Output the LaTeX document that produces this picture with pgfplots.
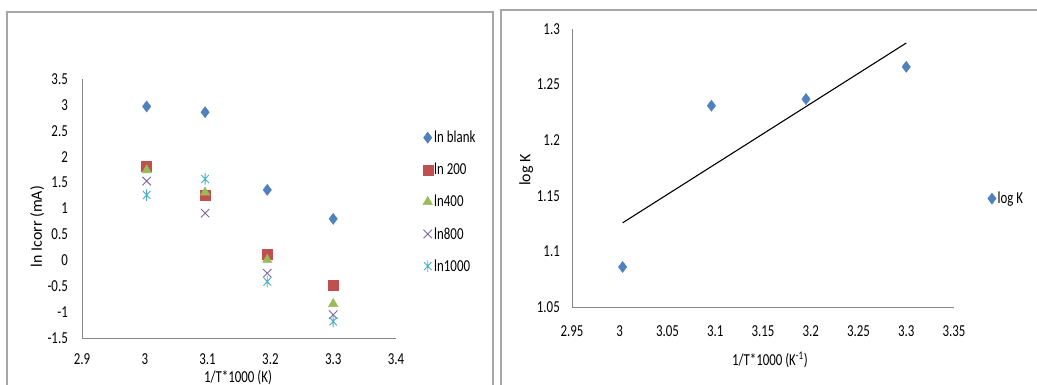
\documentclass[border=0pt]{standalone}
\usepackage{pgfplots}
\pgfplotsset{compat=1.18}
\usepackage{fontspec}
\setmainfont{Carlito}[FakeStretch=0.77]
\newfontfamily\rotfont{Carlito}
\definecolor{cblue}{HTML}{4F81BD}
\definecolor{cred}{HTML}{C0504D}
\definecolor{cgreen}{HTML}{9BBB59}
\definecolor{cpurple}{HTML}{8064A2}
\definecolor{ccyan}{HTML}{4BACC6}
\definecolor{axgray}{HTML}{868686}
\definecolor{framegray}{HTML}{A6A6A6}
\pgfdeclareplotmark{xstar}{%
  \pgfpathmoveto{\pgfqpoint{-.75\pgfplotmarksize}{-.8\pgfplotmarksize}}%
  \pgfpathlineto{\pgfqpoint{.75\pgfplotmarksize}{.8\pgfplotmarksize}}%
  \pgfpathmoveto{\pgfqpoint{-.75\pgfplotmarksize}{.8\pgfplotmarksize}}%
  \pgfpathlineto{\pgfqpoint{.75\pgfplotmarksize}{-.8\pgfplotmarksize}}%
  \pgfpathmoveto{\pgfqpoint{0pt}{-1.15\pgfplotmarksize}}%
  \pgfpathlineto{\pgfqpoint{0pt}{1.15\pgfplotmarksize}}%
  \pgfusepathqstroke}
\newcommand{\tfont}{\fontsize{16.8}{19}\selectfont}
\pgfplotsset{
  excel/.style={
    scale only axis, axis lines=left,
    axis line style={-, draw=axgray, line width=0.9bp},
    major tick length=0pt,
    tick label style={font=\tfont, inner sep=0pt},
    /pgf/number format/assume math mode=true,
    label style={font=\tfont},
    clip=false,
    legend cell align=left,
    legend image code/.code={\draw[mark repeat=2,mark phase=2] plot coordinates {(0cm,0cm) (0.12cm,0cm) (0.24cm,0cm)};},
  },
}
\begin{document}
\begin{tikzpicture}
\useasboundingbox (0bp,0bp) rectangle (1037bp,-385bp);
\clip (0bp,0bp) rectangle (1037bp,-385bp);
\draw[framegray, line width=1.2bp] (7bp,-12bp) rectangle (493bp,-420bp);
\draw[framegray, line width=1.2bp] (501bp,-10bp) rectangle (1060bp,-420bp);

\begin{axis}[excel,
  at={(82bp,-338bp)}, anchor=south west,
  width=314bp, height=259bp,
  xmin=2.9, xmax=3.4, ymin=-1.5, ymax=3.5,
  xtick={2.9,3,3.1,3.2,3.3,3.4},
  ytick={-1.5,-1,-0.5,0,0.5,1,1.5,2,2.5,3,3.5},
  xticklabel style={anchor=north, yshift=-15bp},
  yticklabel style={anchor=east, xshift=-14bp},
  xlabel={1/T*1000 (K)},
  xlabel style={at={(axis description cs:0.497,-0.153)}, anchor=center},
  ylabel={\rotfont\fontsize{16}{19}\selectfont ln Icorr (mA)},
  ylabel style={at={(axis description cs:-0.143,0.43)}, anchor=center},
  legend style={at={(axis description cs:1.075,0.815)}, anchor=north west,
    draw=none, fill=none, font=\tfont, row sep=15bp,
    nodes={inner xsep=1.5bp}},
]
\addplot[only marks, mark=diamond*, mark size=5.6bp, cblue, mark options={fill=cblue, draw=cblue}]
  coordinates {(3.003,2.97) (3.096,2.86) (3.195,1.36) (3.300,0.80)};
\addlegendentry{ln blank}
\addplot[only marks, mark=square*, mark size=5bp, cred, mark options={fill=cred, draw=cred}]
  coordinates {(3.003,1.81) (3.096,1.26) (3.195,0.11) (3.300,-0.48)};
\addlegendentry{ln 200}
\addplot[only marks, mark=triangle*, mark size=5.5bp, cgreen, mark options={fill=cgreen, draw=cgreen}]
  coordinates {(3.003,1.74) (3.096,1.31) (3.195,0.01) (3.300,-0.84)};
\addlegendentry{ln400}
\addplot[only marks, mark=x, mark size=6bp, cpurple, line width=0.9bp]
  coordinates {(3.003,1.53) (3.096,0.91) (3.195,-0.25) (3.300,-1.05)};
\addlegendentry{ln800}
\addplot[only marks, mark=xstar, mark size=5bp, ccyan, line width=0.9bp]
  coordinates {(3.003,1.26) (3.096,1.57) (3.195,-0.41) (3.300,-1.18)};
\addlegendentry{ln1000}
\end{axis}

\begin{axis}[excel,
  at={(572bp,-307bp)}, anchor=south west,
  width=382bp, height=278bp,
  xmin=2.95, xmax=3.35, ymin=1.05, ymax=1.3,
  xtick={2.95,3,3.05,3.1,3.15,3.2,3.25,3.3,3.35},
  ytick={1.05,1.1,1.15,1.2,1.25,1.3},
  xticklabel style={anchor=north, yshift=-18bp},
  yticklabel style={anchor=east, xshift=-12bp},
  xlabel={1/T*1000 (K\textsuperscript{-1})},
  xlabel style={at={(axis description cs:0.518,-0.19)}, anchor=center},
  ylabel={\rotfont\fontsize{16}{19}\selectfont log K},
  ylabel style={at={(axis description cs:-0.12,0.493)}, anchor=center},
  legend style={at={(axis description cs:1.08,0.39)}, anchor=west,
    draw=none, fill=none, font=\tfont, nodes={inner xsep=1.5bp}},
]
\addplot[only marks, mark=diamond*, mark size=5.6bp, cblue, mark options={fill=cblue, draw=cblue}]
  coordinates {(3.003,1.086) (3.096,1.231) (3.195,1.237) (3.300,1.266)};
\addlegendentry{log K}
\addplot[black, line width=1.1bp, forget plot]
  coordinates {(3.003,1.1257) (3.300,1.2874)};
\end{axis}
\end{tikzpicture}
\end{document}
